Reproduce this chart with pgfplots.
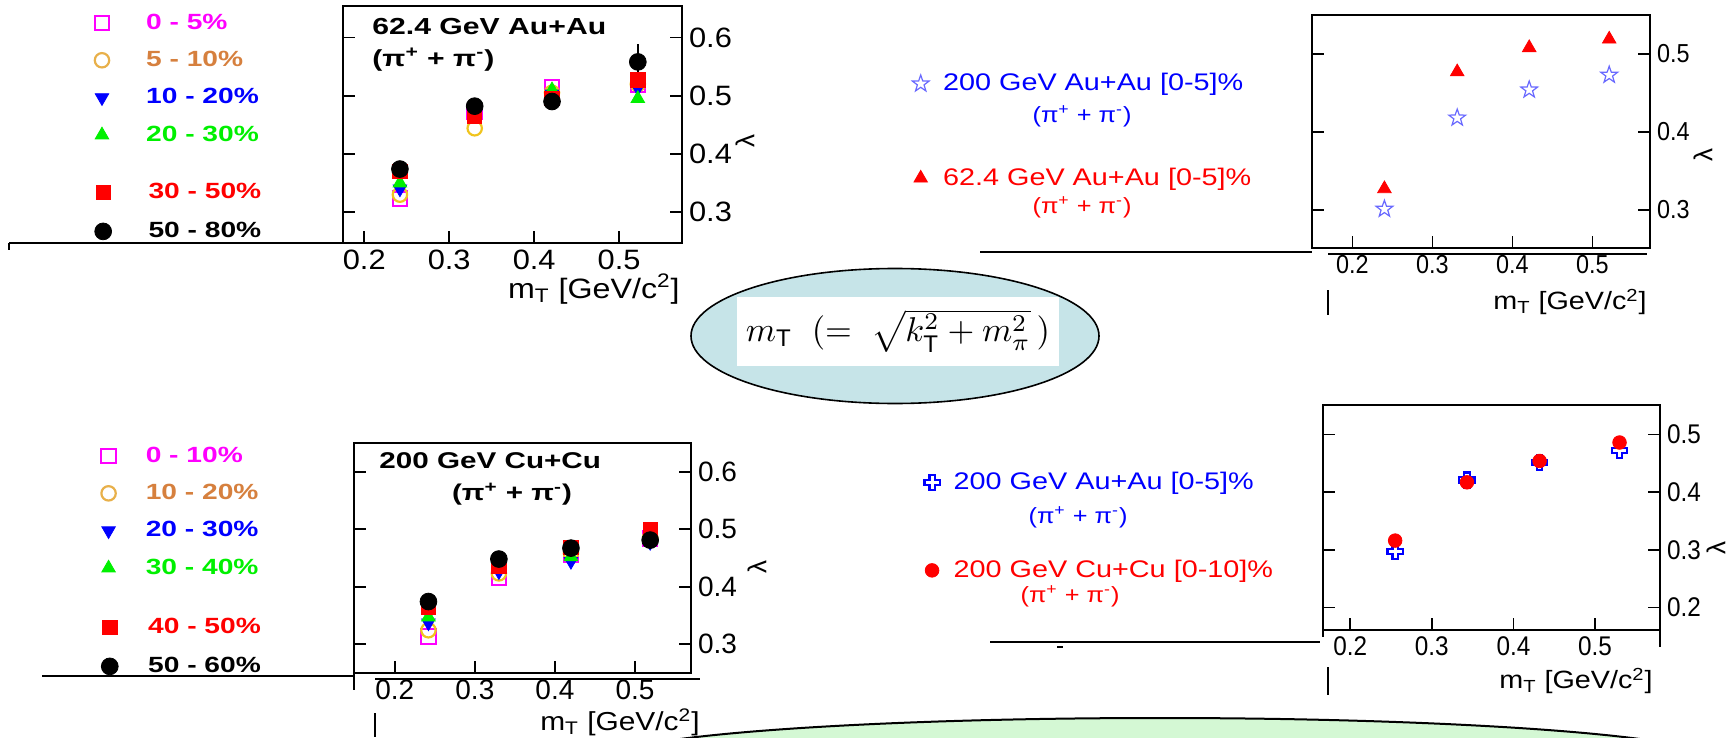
\documentclass[border=0pt]{standalone}
\usepackage{fontspec}
\usepackage{graphicx}
\usepackage{pgfplots}
\pgfplotsset{compat=1.18}
\setmainfont{Liberation Sans}
\newfontfamily\fTickW{Liberation Sans}[FakeStretch=1.1]
\newfontfamily\fTickN{Liberation Sans}[FakeStretch=0.9]
\newfontfamily\fLeg{Liberation Sans}[FakeStretch=1.28]
\newfontfamily\fTitle{Liberation Sans}[FakeStretch=1.3]
\newfontfamily\fText{Liberation Sans}[FakeStretch=1.15]
\newfontfamily\fLegR{Liberation Sans}[FakeStretch=1.2]

\definecolor{cmag}{RGB}{255,0,255}
\definecolor{corg}{RGB}{240,196,30}
\definecolor{corgleg}{RGB}{232,176,74}
\definecolor{corgtxt}{RGB}{214,128,62}
\definecolor{cblue}{RGB}{0,0,255}
\definecolor{cgreen}{RGB}{0,240,0}
\definecolor{cred}{RGB}{255,0,0}
\definecolor{cstar}{RGB}{105,105,255}
\definecolor{ellblue}{RGB}{198,228,232}
\definecolor{ellgreen}{RGB}{212,248,212}

% open five-pointed star
\pgfdeclareplotmark{ostar}{%
  \pgfpathmoveto{\pgfpoint{0pt}{\pgfplotmarksize}}%
  \pgfpathlineto{\pgfpoint{-0.235\pgfplotmarksize}{0.324\pgfplotmarksize}}%
  \pgfpathlineto{\pgfpoint{-0.951\pgfplotmarksize}{0.309\pgfplotmarksize}}%
  \pgfpathlineto{\pgfpoint{-0.380\pgfplotmarksize}{-0.124\pgfplotmarksize}}%
  \pgfpathlineto{\pgfpoint{-0.588\pgfplotmarksize}{-0.809\pgfplotmarksize}}%
  \pgfpathlineto{\pgfpoint{0pt}{-0.4\pgfplotmarksize}}%
  \pgfpathlineto{\pgfpoint{0.588\pgfplotmarksize}{-0.809\pgfplotmarksize}}%
  \pgfpathlineto{\pgfpoint{0.380\pgfplotmarksize}{-0.124\pgfplotmarksize}}%
  \pgfpathlineto{\pgfpoint{0.951\pgfplotmarksize}{0.309\pgfplotmarksize}}%
  \pgfpathlineto{\pgfpoint{0.235\pgfplotmarksize}{0.324\pgfplotmarksize}}%
  \pgfpathclose\pgfusepathqstroke}
% open cross (outlined plus sign)
\pgfdeclareplotmark{ocross}{%
  \pgfpathmoveto{\pgfpoint{-0.35\pgfplotmarksize}{\pgfplotmarksize}}%
  \pgfpathlineto{\pgfpoint{0.35\pgfplotmarksize}{\pgfplotmarksize}}%
  \pgfpathlineto{\pgfpoint{0.35\pgfplotmarksize}{0.35\pgfplotmarksize}}%
  \pgfpathlineto{\pgfpoint{\pgfplotmarksize}{0.35\pgfplotmarksize}}%
  \pgfpathlineto{\pgfpoint{\pgfplotmarksize}{-0.35\pgfplotmarksize}}%
  \pgfpathlineto{\pgfpoint{0.35\pgfplotmarksize}{-0.35\pgfplotmarksize}}%
  \pgfpathlineto{\pgfpoint{0.35\pgfplotmarksize}{-\pgfplotmarksize}}%
  \pgfpathlineto{\pgfpoint{-0.35\pgfplotmarksize}{-\pgfplotmarksize}}%
  \pgfpathlineto{\pgfpoint{-0.35\pgfplotmarksize}{-0.35\pgfplotmarksize}}%
  \pgfpathlineto{\pgfpoint{-\pgfplotmarksize}{-0.35\pgfplotmarksize}}%
  \pgfpathlineto{\pgfpoint{-\pgfplotmarksize}{0.35\pgfplotmarksize}}%
  \pgfpathlineto{\pgfpoint{-0.35\pgfplotmarksize}{0.35\pgfplotmarksize}}%
  \pgfpathclose\pgfusepathqstroke}

% marker styles
\tikzset{
  mA/.style={mark=square, mark size=3.6pt, color=cmag, line width=1.1pt},
  mB/.style={mark=o, mark size=3.6pt, color=corg, line width=1.1pt},
  mBl/.style={mark=o, mark size=3.6pt, color=corgleg, line width=1.1pt},
  mC/.style={mark=triangle*, mark size=3.9pt, color=cblue, mark options={rotate=180}},
  mD/.style={mark=triangle*, mark size=3.9pt, color=cgreen},
  mE/.style={mark=square*, mark size=3.6pt, color=cred},
  mF/.style={mark=*, mark size=4.2pt, color=black},
  mTri/.style={mark=triangle*, mark size=3.9pt, color=cred},
  mStar/.style={mark=ostar, mark size=4.4pt, color=cstar, line width=0.6pt},
  mCross/.style={mark=ocross, mark size=3.8pt, color=cblue, line width=1.1pt},
  mDot/.style={mark=*, mark size=3.4pt, color=cred},
}

\pgfplotsset{
  panel/.style={scale only axis, anchor=south west,
    axis line style={line width=1.1pt},
    tick align=inside, major tick length=6pt,
    tick style={black, line width=0.9pt},
    xtick pos=left, yticklabel pos=right, ytick pos=both,
    xtick={0.2,0.3,0.4,0.5},
    /pgf/number format/assume math mode=true,
    clip=false},
  legaxis/.style={hide axis, scale only axis, width=867.5pt, height=369pt,
    xmin=0, xmax=1, ymin=0, ymax=1, at={(0pt,0pt)}, anchor=north west,
    legend cell align=left,
    legend image code/.code={\draw[##1] plot coordinates {(0pt,0pt)};}},
  leftleg/.style={legend style={anchor=west, draw=none, fill=none,
    inner sep=0pt, column sep=13pt,
    font=\fLeg\bfseries\fontsize{11}{12}\selectfont}},
  rightleg/.style={legend style={anchor=west, draw=none, fill=none,
    inner sep=0pt, column sep=5pt,
    font=\fLegR\fontsize{12}{13}\selectfont}},
}

\newcommand{\pipi}{(π\textsuperscript{+} + π\textsuperscript{-})}
\newcommand{\mtlabel}{m\textsubscript{T} [GeV/c\textsuperscript{2}]}

\begin{document}
\begin{tikzpicture}
\path[use as bounding box] (0pt,0pt) rectangle (867.5pt,-369pt);

% ---------- decorations (pixel grid: 1 px = 0.5 pt) ----------
\begin{scope}[x=0.5pt, y=-0.5pt]
  \draw[line width=1pt, fill=ellgreen] (1160,760) ellipse [x radius=277pt, y radius=21pt];
  \draw[line width=0.8pt, fill=ellblue] (895,336) ellipse [x radius=102pt, y radius=33.75pt];
  \node[fill=white, inner sep=0pt, minimum width=161pt, minimum height=34.5pt] at (898,331)
    {\resizebox{152pt}{!}{$m_{\mathrm{T}}\;\;(=\;\sqrt{k_{\mathrm{T}}^{2}+m_{\pi}^{2}}\,)$}};

  % leftover frame lines around the panels
  \draw[line width=1.2pt] (9,243) -- (343,243);
  \draw[line width=0.8pt] (9,243) -- (9,250);
  \draw[line width=1.2pt] (980,252) -- (1312,252);
  \draw[line width=0.8pt] (1328,254) -- (1647,254);
  \draw[line width=0.8pt] (1328,290) -- (1328,315);
  \draw[line width=1.2pt] (42,676) -- (354,676);
  \draw[line width=1.1pt] (354,673) -- (354,690);
  \draw[line width=0.8pt] (375,679) -- (700,679);
  \draw[line width=0.8pt] (375,713) -- (375,737);
  \draw[line width=1.2pt] (990,642) -- (1320,642);
  \draw[line width=1pt] (1057,647) -- (1063,647);
  \draw[line width=1.1pt] (1323,630) -- (1323,637);
  \draw[line width=1.1pt] (1660,630) -- (1660,647);
  \draw[line width=0.8pt] (1328,667) -- (1328,695);
\end{scope}

% ---------- 62.4 GeV Au+Au ----------
\begin{axis}[panel, at={(171.5pt,-121.5pt)}, width=169.5pt, height=118.5pt,
  xmin=0.175, xmax=0.574, ymin=0.247, ymax=0.654, ytick={0.3,0.4,0.5,0.6},
  tick label style={font=\fTickW\fontsize{14}{14}\selectfont}]
\addplot[only marks, mA] coordinates {(0.242,0.323) (0.330,0.472) (0.421,0.514) (0.522,0.518)};
\addplot[only marks, mB] coordinates {(0.242,0.330) (0.330,0.444) (0.421,0.505) (0.522,0.520)};
\addplot[only marks, mC] coordinates {(0.242,0.340) (0.330,0.470) (0.421,0.503) (0.522,0.513)};
\addplot[only marks, mD] coordinates {(0.242,0.350) (0.330,0.472) (0.421,0.510) (0.522,0.495)};
\addplot[only marks, mE] coordinates {(0.242,0.370) (0.330,0.464) (0.421,0.495) (0.522,0.527)};
\addplot[only marks, mF, error bars/.cd, y dir=both, y explicit,
  error bar style={line width=1pt, black}, error mark options={mark size=3pt, line width=1pt, black}]
  coordinates {(0.242,0.374) +- (0,0) (0.330,0.482) +- (0,0) (0.421,0.490) +- (0,0) (0.522,0.558) +- (0,0.02)};
\end{axis}

% ---------- 200 GeV Cu+Cu ----------
\begin{axis}[panel, at={(177pt,-336.5pt)}, width=168.5pt, height=115pt,
  xmin=0.149, xmax=0.570, ymin=0.2496, ymax=0.650, ytick={0.3,0.4,0.5,0.6},
  tick label style={font=\fontsize{14}{14}\selectfont}]
\addplot[only marks, mA] coordinates {(0.242,0.313) (0.330,0.416) (0.420,0.455) (0.519,0.484)};
\addplot[only marks, mB] coordinates {(0.242,0.324) (0.330,0.423) (0.420,0.458) (0.519,0.486)};
\addplot[only marks, mC] coordinates {(0.242,0.337) (0.330,0.426) (0.420,0.444) (0.519,0.477)};
\addplot[only marks, mD] coordinates {(0.242,0.347) (0.330,0.435) (0.420,0.452) (0.519,0.484)};
\addplot[only marks, mE] coordinates {(0.242,0.365) (0.330,0.436) (0.420,0.468) (0.519,0.500)};
\addplot[only marks, mF] coordinates {(0.242,0.374) (0.330,0.448) (0.420,0.467) (0.519,0.481)};
\end{axis}

% ---------- 200 vs 62.4 GeV Au+Au ----------
\begin{axis}[panel, at={(656pt,-124pt)}, width=169pt, height=116.5pt,
  xmin=0.1495, xmax=0.572, ymin=0.251, ymax=0.550, ytick={0.3,0.4,0.5},
  tick label style={font=\fTickN\fontsize{13}{13}\selectfont}]
\addplot[only marks, mTri] coordinates {(0.240,0.327) (0.331,0.477) (0.421,0.508) (0.521,0.519)};
\addplot[only marks, mStar] coordinates {(0.240,0.301) (0.331,0.418) (0.421,0.454) (0.521,0.473)};
\end{axis}

% ---------- Au+Au vs Cu+Cu at 200 GeV ----------
\begin{axis}[panel, at={(661.5pt,-315pt)}, width=168.5pt, height=112.5pt,
  xmin=0.1666, xmax=0.5796, ymin=0.161, ymax=0.551, ytick={0.2,0.3,0.4,0.5},
  tick label style={font=\fTickN\fontsize{13.5}{13.5}\selectfont}]
\addplot[only marks, mCross] coordinates {(0.255,0.297) (0.343,0.421) (0.432,0.451) (0.530,0.472)};
\addplot[only marks, mDot] coordinates {(0.255,0.316) (0.343,0.417) (0.432,0.454) (0.530,0.486)};
\end{axis}

% ---------- legends ----------
\begin{axis}[legaxis, leftleg, legend style={at={(0.0544,0.8930)}, row sep=5.5pt, column sep=16.5pt}]
\addlegendimage{mA}\addlegendentry{\textcolor{cmag}{0 - 5\%}}
\addlegendimage{mBl}\addlegendentry{\textcolor{corgtxt}{5 - 10\%}}
\addlegendimage{mC}\addlegendentry{\textcolor{cblue}{10 - 20\%}}
\addlegendimage{mD}\addlegendentry{\textcolor{cgreen}{20 - 30\%}}
\end{axis}
\begin{axis}[legaxis, leftleg, legend style={at={(0.0544,0.7127)}, row sep=6.2pt, column sep=16.5pt}]
\addlegendimage{mE}\addlegendentry{\textcolor{cred}{30 - 50\%}}
\addlegendimage{mF}\addlegendentry{\textcolor{black}{50 - 80\%}}
\end{axis}
\begin{axis}[legaxis, leftleg, legend style={at={(0.0582,0.3062)}, row sep=5.5pt}]
\addlegendimage{mA}\addlegendentry{\textcolor{cmag}{0 - 10\%}}
\addlegendimage{mBl}\addlegendentry{\textcolor{corgtxt}{10 - 20\%}}
\addlegendimage{mC}\addlegendentry{\textcolor{cblue}{20 - 30\%}}
\addlegendimage{mD}\addlegendentry{\textcolor{cgreen}{30 - 40\%}}
\end{axis}
\begin{axis}[legaxis, leftleg, legend style={at={(0.0582,0.1233)}, row sep=6.2pt}]
\addlegendimage{mE}\addlegendentry{\textcolor{cred}{40 - 50\%}}
\addlegendimage{mF}\addlegendentry{\textcolor{black}{50 - 60\%}}
\end{axis}
\begin{axis}[legaxis, rightleg, legend style={at={(0.5256,0.8225)}, row sep=33pt}]
\addlegendimage{mStar}\addlegendentry{\textcolor{cblue}{200 GeV Au+Au [0-5]\%}}
\addlegendimage{mTri}\addlegendentry{\textcolor{cred}{62.4 GeV Au+Au [0-5]\%}}
\end{axis}
\begin{axis}[legaxis, rightleg, legend style={at={(0.5326,0.2866)}, row sep=29.7pt}]
\addlegendimage{mCross}\addlegendentry{\textcolor{cblue}{200 GeV Au+Au [0-5]\%}}
\addlegendimage{mDot}\addlegendentry{\textcolor{cred}{200 GeV Cu+Cu [0-10]\%}}
\end{axis}

% ---------- texts ----------
\begin{scope}[x=0.5pt, y=-0.5pt]
  \node[anchor=west, inner sep=0pt, font=\fTitle\bfseries\fontsize{11.6}{13}\selectfont] at (372,27) {62.4 GeV Au+Au};
  \node[anchor=west, inner sep=0pt, font=\fTitle\bfseries\fontsize{11.6}{13}\selectfont] at (372,60) {\pipi};
  \node[anchor=west, inner sep=0pt, font=\fTitle\bfseries\fontsize{11.4}{13}\selectfont] at (379,461) {200 GeV Cu+Cu};
  \node[inner sep=0pt, font=\fTitle\bfseries\fontsize{11.4}{13}\selectfont] at (512,494) {\pipi};

  \node[inner sep=0pt, text=cblue, font=\fText\fontsize{11}{12}\selectfont] at (1082,116) {\pipi};
  \node[inner sep=0pt, text=cred, font=\fText\fontsize{11}{12}\selectfont] at (1082,207) {\pipi};
  \node[inner sep=0pt, text=cblue, font=\fText\fontsize{11}{12}\selectfont] at (1078,517) {\pipi};
  \node[inner sep=0pt, text=cred, font=\fText\fontsize{11}{12}\selectfont] at (1070,596) {\pipi};

  \node[anchor=east, inner sep=0pt, font=\fText\fontsize{14}{14}\selectfont] at (680,289) {\mtlabel};
  \node[anchor=east, inner sep=0pt, font=\fText\fontsize{12.5}{13}\selectfont] at (1647,302) {\mtlabel};
  \node[anchor=east, inner sep=0pt, font=\fText\fontsize{13}{13}\selectfont] at (700,722) {\mtlabel};
  \node[anchor=east, inner sep=0pt, font=\fText\fontsize{12.5}{13}\selectfont] at (1653,681) {\mtlabel};

  \node[rotate=90, inner sep=0pt, font=\fontsize{13}{13}\selectfont] at (745,141) {λ};
  \node[rotate=90, inner sep=0pt, font=\fontsize{13}{13}\selectfont] at (1703,155) {λ};
  \node[rotate=90, inner sep=0pt, font=\fontsize{13}{13}\selectfont] at (757,567) {λ};
  \node[rotate=90, inner sep=0pt, font=\fontsize{13}{13}\selectfont] at (1716,548) {λ};
\end{scope}
\end{tikzpicture}
\end{document}
